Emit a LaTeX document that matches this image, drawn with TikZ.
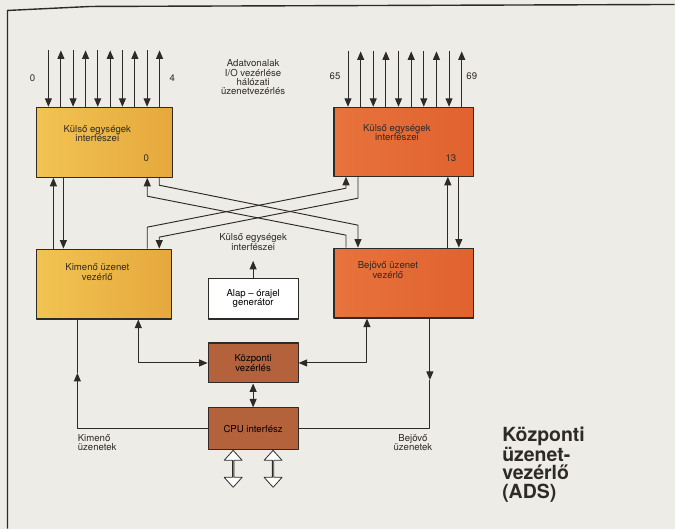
\documentclass[tikz,border=0pt]{standalone}
\usepackage{fontspec}
\setmainfont{TeX Gyre Heros}
\usetikzlibrary{arrows.meta, shapes.arrows}

\definecolor{paper}{HTML}{EEECE6}
\definecolor{ink}{HTML}{2E2A28}
\definecolor{yelA}{HTML}{F1C452}
\definecolor{yelB}{HTML}{E6A83C}
\definecolor{redA}{HTML}{E8733C}
\definecolor{redB}{HTML}{E0622F}
\definecolor{brown}{HTML}{B3623C}

\begin{document}
\begin{tikzpicture}[x=1pt, y=-1pt, >={Triangle[length=8.5pt,width=7pt]}, line join=round,
    font=\fontsize{9.6}{9.4}\selectfont,
    every path/.style={draw=ink, line width=0.95pt},
    box/.style={draw=ink, line width=1.1pt, inner sep=0pt, align=center},
    ybox/.style={box, left color=yelA, right color=yelB},
    rbox/.style={box, left color=redA, right color=redB},
    bbox/.style={box, fill=brown},
    wbox/.style={box, fill=white},
    txt/.style={inner sep=1pt, align=center, text=ink},
    bus/.style={double arrow, shape border rotate=90, draw=ink, fill=white, line width=0.8pt,
      minimum height=37pt, minimum width=18pt, double arrow head extend=4.5pt,
      double arrow tip angle=84, inner sep=0pt},
    title/.style={inner sep=0pt, align=left, text=ink, font=\fontsize{19.5}{18.5}\selectfont\bfseries}]
  \useasboundingbox (0,0) rectangle (675,529);
  \fill[paper, draw=none] (0,0) rectangle (675,529);
  \draw[line width=1.4pt] (7,529) -- (7,10) -- (90,6) -- (675,4);

  \node[ybox, minimum width=136pt, minimum height=70pt] (lext) at (104,142) {};
  \node[txt] (lexttxt) at (97,133) {Külső egységek\\interfészei};
  \node[txt] (lnum) at (146,158) {0};
  \node[rbox, minimum width=140pt, minimum height=69pt] (rext) at (404,141.5) {};
  \node[txt] (rexttxt) at (397,132) {Külső egységek\\interfészei};
  \node[txt] (rnum) at (451,158) {13};
  \node[ybox, minimum width=135pt, minimum height=70pt] (kim) at (103.5,284) {};
  \node[txt] (kimtxt) at (97,272) {Kimenő üzenet\\vezérlő};
  \node[rbox, minimum width=140pt, minimum height=70pt] (bej) at (404,283) {};
  \node[txt] (bejtxt) at (388,270) {Bejövő üzenet\\vezérlő};
  \node[wbox, minimum width=90pt, minimum height=41pt] (gen) at (253,298.5) {Alap – órajel\\generátor};
  \node[txt] (gentxt) at (253,242) {Külső egységek\\interfészei};
  \node[bbox, minimum width=90pt, minimum height=40pt] (kozp) at (253,363) {Központi\\vezérlés};
  \node[bbox, minimum width=90pt, minimum height=42pt] (cpu) at (253,429) {CPU interfész};
  \node[bus] (bus1) at (233,469) {};
  \node[bus] (bus2) at (273,469) {};

  \node[txt] (n0) at (32,78) {0};
  \node[txt] (n4) at (172,78) {4};
  \node[txt] (n65) at (335,76) {65};
  \node[txt] (n69) at (472,76) {69};
  \node[txt] (adat) at (253,77) {Adatvonalak\\I/O vezérlése\\hálózati\\üzenetvezérlés};
  \node[txt, anchor=west, align=left] (kimuz) at (76,443) {Kimenő\\üzenetek};
  \node[txt] (bejuz) at (413,443) {Bejövő\\üzenetek};
  \node[title, anchor=north west] (cim) at (502,427) {Központi\\üzenet-\\vezérlő\\(ADS)};

  \coordinate (kimmid) at (77,373);
  \coordinate (bejmid) at (430,380);

  \foreach \i [evaluate=\i as \xd using 48+24.7*\i, evaluate=\i as \xu using 60.5+24.7*\i] in {0,...,4} {
    \draw[->] (\xd,50) -- (\xd,0 |- lext.north);
    \draw[->] (\xu,0 |- lext.north) -- (\xu,50);
  }
  \foreach \i [evaluate=\i as \xd using 348+25.3*\i, evaluate=\i as \xu using 360.7+25.3*\i] in {0,...,4} {
    \draw[->] (\xd,51) -- (\xd,0 |- rext.north);
    \draw[->] (\xu,0 |- rext.north) -- (\xu,51);
  }

  \draw[->] (53,0 |- kim.north) -- (53,0 |- lext.south);
  \draw[->] (63,0 |- lext.south) -- (63,0 |- kim.north);
  \draw[->] (448,0 |- bej.north) -- (448,0 |- rext.south);
  \draw[->] (459,0 |- rext.south) -- (459,0 |- bej.north);

  \draw[->] (159,0 |- lext.south) -- (159,185) -- (358,225) -- (358,0 |- bej.north);
  \draw[->] (346,0 |- bej.north) -- (346,235) -- (147,196) -- (147,0 |- lext.south);
  \draw[->] (147,0 |- kim.north) -- (147,227) -- (346,188) -- (346,0 |- rext.south);
  \draw[->] (358,0 |- rext.south) -- (358,198) -- (159,237) -- (159,0 |- kim.north);

  \draw[->, shorten >=9pt] (gen.north) -- (gentxt.south);

  \draw[<->] (138,0 |- kim.south) |- (kozp.west);
  \draw[<->] (367,0 |- bej.south) |- (kozp.east);
  \draw[<->] (kozp.south) -- (cpu.north);
  \draw[->] (cpu.west) -| (kimmid);
  \draw (kimmid) -- (77,0 |- kim.south);
  \draw[->] (430,0 |- bej.south) -- (bejmid);
  \draw (bejmid) |- (cpu.east);
\end{tikzpicture}
\end{document}
